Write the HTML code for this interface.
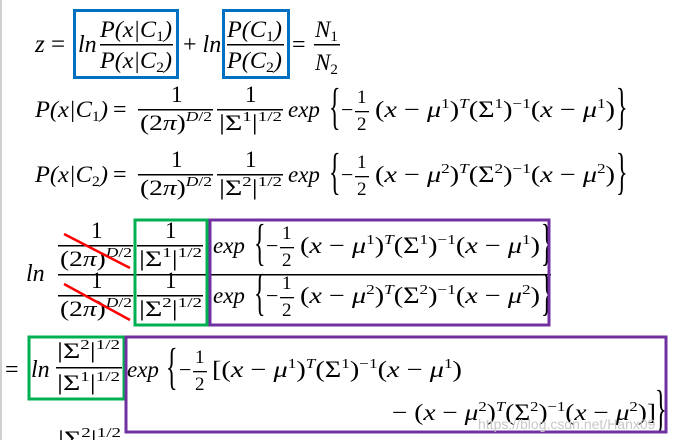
<!DOCTYPE html>
<html><head><meta charset="utf-8"><style>
html,body{margin:0;padding:0;background:#fff;width:681px;height:440px;overflow:hidden}
svg{display:block}
text{font-family:"Liberation Serif",serif;font-style:italic;fill:#000}
.r{font-style:normal}
.br{font-family:"Liberation Serif",serif;font-style:normal}
</style></head><body>
<svg width="681" height="440" viewBox="0 0 681 440" xmlns="http://www.w3.org/2000/svg">
<rect x="0" y="0" width="2" height="440" fill="#d0d0d0"/>
<!-- Row 1 -->
<text x="35" y="52" font-size="25">z <tspan class="r">=</tspan></text>
<text x="78" y="52" font-size="24">ln</text>
<text x="100" y="37" font-size="23" textLength="72" lengthAdjust="spacingAndGlyphs">P(x|C<tspan font-size="15" dy="4" class="r">1</tspan><tspan dy="-4">)</tspan></text>
<rect x="100" y="44" width="73" height="1.5" fill="#000"/>
<text x="100" y="68" font-size="23" textLength="72" lengthAdjust="spacingAndGlyphs">P(x|C<tspan font-size="15" dy="4" class="r">2</tspan><tspan dy="-4">)</tspan></text>
<text x="183" y="52" font-size="24"><tspan class="r">+</tspan> ln</text>
<text x="227" y="37" font-size="23" textLength="55" lengthAdjust="spacingAndGlyphs">P(C<tspan font-size="15" dy="4" class="r">1</tspan><tspan dy="-4">)</tspan></text>
<rect x="227" y="44" width="57" height="1.5" fill="#000"/>
<text x="227" y="68" font-size="23" textLength="55" lengthAdjust="spacingAndGlyphs">P(C<tspan font-size="15" dy="4" class="r">2</tspan><tspan dy="-4">)</tspan></text>
<text x="292" y="52" font-size="24" class="r">=</text>
<text x="315" y="37" font-size="23">N<tspan font-size="15" dy="4" class="r">1</tspan></text>
<rect x="314" y="44" width="26" height="1.5" fill="#000"/>
<text x="315" y="70" font-size="23">N<tspan font-size="15" dy="4" class="r">2</tspan></text>
<rect x="74.5" y="10.5" width="103" height="67" fill="none" stroke="#0070c0" stroke-width="3"/>
<rect x="223.5" y="10.5" width="65" height="67" fill="none" stroke="#0070c0" stroke-width="3"/>

<!-- Row 2 & 3 -->
<text x="35" y="117" font-size="23" textLength="73" lengthAdjust="spacingAndGlyphs">P(x|C<tspan font-size="15" dy="4" class="r">1</tspan><tspan dy="-4">)</tspan></text>
<text x="35" y="182" font-size="23" textLength="73" lengthAdjust="spacingAndGlyphs">P(x|C<tspan font-size="15" dy="4" class="r">2</tspan><tspan dy="-4">)</tspan></text>
<text x="113" y="117" font-size="24" class="r">=</text>
<text x="113" y="182" font-size="24" class="r">=</text>
<g>
<text x="171" y="102" font-size="23" class="r">1</text>
<rect x="138" y="109" width="75" height="1.5" fill="#000"/>
<text x="140" y="130" font-size="22" class="r" textLength="72" lengthAdjust="spacingAndGlyphs">(2<tspan font-style="italic">π</tspan>)<tspan font-size="14" dy="-9" font-style="italic">D</tspan><tspan font-size="14">/2</tspan></text>
<text x="245" y="102" font-size="23" class="r">1</text>
<rect x="217" y="109" width="66" height="1.5" fill="#000"/>
<text x="219" y="130" font-size="22" class="r" textLength="63" lengthAdjust="spacingAndGlyphs">|Σ<tspan font-size="14" dy="-9">1</tspan><tspan dy="9">|</tspan><tspan font-size="14" dy="-9">1/2</tspan></text>
</g>
<g transform="translate(0,65)">
<text x="171" y="102" font-size="23" class="r">1</text>
<rect x="138" y="109" width="75" height="1.5" fill="#000"/>
<text x="140" y="130" font-size="22" class="r" textLength="72" lengthAdjust="spacingAndGlyphs">(2<tspan font-style="italic">π</tspan>)<tspan font-size="14" dy="-9" font-style="italic">D</tspan><tspan font-size="14">/2</tspan></text>
<text x="245" y="102" font-size="23" class="r">1</text>
<rect x="217" y="109" width="66" height="1.5" fill="#000"/>
<text x="219" y="130" font-size="22" class="r" textLength="63" lengthAdjust="spacingAndGlyphs">|Σ<tspan font-size="14" dy="-9">2</tspan><tspan dy="9">|</tspan><tspan font-size="14" dy="-9">1/2</tspan></text>
</g>
<g>
<text x="288" y="117" font-size="23">exp</text>
<text class="br" font-size="24" transform="translate(329,123) scale(1,2.1)">{</text>
<text x="341" y="117" font-size="22" class="r">−</text>
<text x="357" y="103" font-size="19" class="r">1</text>
<rect x="355" y="111" width="14" height="1.3" fill="#000"/>
<text x="357" y="130" font-size="19" class="r">2</text>
<text x="375" y="117" font-size="23" textLength="240" lengthAdjust="spacingAndGlyphs"><tspan class="r">(</tspan>x <tspan class="r">−</tspan> μ<tspan font-size="14" dy="-9" class="r">1</tspan><tspan dy="9" class="r">)</tspan><tspan font-size="14" dy="-9">T</tspan><tspan dy="9" class="r">(Σ</tspan><tspan font-size="14" dy="-9" class="r">1</tspan><tspan dy="9" class="r">)</tspan><tspan font-size="14" dy="-9" class="r">−1</tspan><tspan dy="9" class="r">(</tspan>x <tspan class="r">−</tspan> μ<tspan font-size="14" dy="-9" class="r">1</tspan><tspan dy="9" class="r">)</tspan></text>
<text class="br" font-size="24" transform="translate(616,123) scale(1,2.1)">}</text>
</g>
<g transform="translate(0,65)">
<text x="288" y="117" font-size="23">exp</text>
<text class="br" font-size="24" transform="translate(329,123) scale(1,2.1)">{</text>
<text x="341" y="117" font-size="22" class="r">−</text>
<text x="357" y="103" font-size="19" class="r">1</text>
<rect x="355" y="111" width="14" height="1.3" fill="#000"/>
<text x="357" y="130" font-size="19" class="r">2</text>
<text x="375" y="117" font-size="23" textLength="240" lengthAdjust="spacingAndGlyphs"><tspan class="r">(</tspan>x <tspan class="r">−</tspan> μ<tspan font-size="14" dy="-9" class="r">2</tspan><tspan dy="9" class="r">)</tspan><tspan font-size="14" dy="-9">T</tspan><tspan dy="9" class="r">(Σ</tspan><tspan font-size="14" dy="-9" class="r">2</tspan><tspan dy="9" class="r">)</tspan><tspan font-size="14" dy="-9" class="r">−1</tspan><tspan dy="9" class="r">(</tspan>x <tspan class="r">−</tspan> μ<tspan font-size="14" dy="-9" class="r">2</tspan><tspan dy="9" class="r">)</tspan></text>
<text class="br" font-size="24" transform="translate(616,123) scale(1,2.1)">}</text>
</g>

<!-- Row 4 -->
<text x="26" y="281" font-size="24">ln</text>
<rect x="58" y="274" width="493" height="1.5" fill="#000"/>
<g transform="translate(-80,136)">
<text x="171" y="102" font-size="23" class="r">1</text>
<rect x="138" y="109" width="75" height="1.5" fill="#000"/>
<text x="140" y="130" font-size="22" class="r" textLength="72" lengthAdjust="spacingAndGlyphs">(2<tspan font-style="italic">π</tspan>)<tspan font-size="14" dy="-9" font-style="italic">D</tspan><tspan font-size="14">/2</tspan></text>
<text x="245" y="102" font-size="23" class="r">1</text>
<rect x="217" y="109" width="66" height="1.5" fill="#000"/>
<text x="219" y="130" font-size="22" class="r" textLength="63" lengthAdjust="spacingAndGlyphs">|Σ<tspan font-size="14" dy="-9">1</tspan><tspan dy="9">|</tspan><tspan font-size="14" dy="-9">1/2</tspan></text>
</g>
<g transform="translate(-80,186)">
<text x="171" y="102" font-size="23" class="r">1</text>
<rect x="138" y="109" width="75" height="1.5" fill="#000"/>
<text x="140" y="130" font-size="22" class="r" textLength="72" lengthAdjust="spacingAndGlyphs">(2<tspan font-style="italic">π</tspan>)<tspan font-size="14" dy="-9" font-style="italic">D</tspan><tspan font-size="14">/2</tspan></text>
<text x="245" y="102" font-size="23" class="r">1</text>
<rect x="217" y="109" width="66" height="1.5" fill="#000"/>
<text x="219" y="130" font-size="22" class="r" textLength="63" lengthAdjust="spacingAndGlyphs">|Σ<tspan font-size="14" dy="-9">2</tspan><tspan dy="9">|</tspan><tspan font-size="14" dy="-9">1/2</tspan></text>
</g>
<line x1="64" y1="234" x2="130" y2="268" stroke="#ff0000" stroke-width="2.5"/>
<line x1="64" y1="284" x2="130" y2="320" stroke="#ff0000" stroke-width="2.5"/>
<g transform="translate(-75,136)">
<text x="288" y="117" font-size="23">exp</text>
<text class="br" font-size="24" transform="translate(329,123) scale(1,2.1)">{</text>
<text x="341" y="117" font-size="22" class="r">−</text>
<text x="357" y="103" font-size="19" class="r">1</text>
<rect x="355" y="111" width="14" height="1.3" fill="#000"/>
<text x="357" y="130" font-size="19" class="r">2</text>
<text x="375" y="117" font-size="23" textLength="240" lengthAdjust="spacingAndGlyphs"><tspan class="r">(</tspan>x <tspan class="r">−</tspan> μ<tspan font-size="14" dy="-9" class="r">1</tspan><tspan dy="9" class="r">)</tspan><tspan font-size="14" dy="-9">T</tspan><tspan dy="9" class="r">(Σ</tspan><tspan font-size="14" dy="-9" class="r">1</tspan><tspan dy="9" class="r">)</tspan><tspan font-size="14" dy="-9" class="r">−1</tspan><tspan dy="9" class="r">(</tspan>x <tspan class="r">−</tspan> μ<tspan font-size="14" dy="-9" class="r">1</tspan><tspan dy="9" class="r">)</tspan></text>
<text class="br" font-size="24" transform="translate(616,123) scale(1,2.1)">}</text>
</g>
<g transform="translate(-75,186)">
<text x="288" y="117" font-size="23">exp</text>
<text class="br" font-size="24" transform="translate(329,123) scale(1,2.1)">{</text>
<text x="341" y="117" font-size="22" class="r">−</text>
<text x="357" y="103" font-size="19" class="r">1</text>
<rect x="355" y="111" width="14" height="1.3" fill="#000"/>
<text x="357" y="130" font-size="19" class="r">2</text>
<text x="375" y="117" font-size="23" textLength="240" lengthAdjust="spacingAndGlyphs"><tspan class="r">(</tspan>x <tspan class="r">−</tspan> μ<tspan font-size="14" dy="-9" class="r">2</tspan><tspan dy="9" class="r">)</tspan><tspan font-size="14" dy="-9">T</tspan><tspan dy="9" class="r">(Σ</tspan><tspan font-size="14" dy="-9" class="r">2</tspan><tspan dy="9" class="r">)</tspan><tspan font-size="14" dy="-9" class="r">−1</tspan><tspan dy="9" class="r">(</tspan>x <tspan class="r">−</tspan> μ<tspan font-size="14" dy="-9" class="r">2</tspan><tspan dy="9" class="r">)</tspan></text>
<text class="br" font-size="24" transform="translate(616,123) scale(1,2.1)">}</text>
</g>
<rect x="135" y="220" width="72" height="105" fill="none" stroke="#00b050" stroke-width="3"/>
<rect x="210" y="220" width="339" height="105" fill="none" stroke="#7030a0" stroke-width="3"/>

<!-- Row 5 -->
<text x="5" y="377" font-size="24" class="r">=</text>
<text x="31" y="377" font-size="24">ln</text>
<text x="57" y="358" font-size="22" class="r" textLength="63" lengthAdjust="spacingAndGlyphs">|Σ<tspan font-size="14" dy="-9">2</tspan><tspan dy="9">|</tspan><tspan font-size="14" dy="-9">1/2</tspan></text>
<rect x="56" y="367" width="66" height="1.5" fill="#000"/>
<text x="57" y="390" font-size="22" class="r" textLength="63" lengthAdjust="spacingAndGlyphs">|Σ<tspan font-size="14" dy="-9">1</tspan><tspan dy="9">|</tspan><tspan font-size="14" dy="-9">1/2</tspan></text>
<text x="127" y="377" font-size="23">exp</text>
<text class="br" font-size="24" transform="translate(166,383) scale(1,2.1)">{</text>
<text x="179" y="377" font-size="22" class="r">−</text>
<text x="195" y="363" font-size="19" class="r">1</text>
<rect x="193" y="371" width="14" height="1.3" fill="#000"/>
<text x="195" y="390" font-size="19" class="r">2</text>
<text x="212" y="377" font-size="23" textLength="250" lengthAdjust="spacingAndGlyphs"><tspan class="r">[(</tspan>x <tspan class="r">−</tspan> μ<tspan font-size="14" dy="-9" class="r">1</tspan><tspan dy="9" class="r">)</tspan><tspan font-size="14" dy="-9">T</tspan><tspan dy="9" class="r">(Σ</tspan><tspan font-size="14" dy="-9" class="r">1</tspan><tspan dy="9" class="r">)</tspan><tspan font-size="14" dy="-9" class="r">−1</tspan><tspan dy="9" class="r">(</tspan>x <tspan class="r">−</tspan> μ<tspan font-size="14" dy="-9" class="r">1</tspan><tspan dy="9" class="r">)</tspan></text>
<text x="392" y="420" font-size="23" textLength="264" lengthAdjust="spacingAndGlyphs"><tspan class="r">− (</tspan>x <tspan class="r">−</tspan> μ<tspan font-size="14" dy="-9" class="r">2</tspan><tspan dy="9" class="r">)</tspan><tspan font-size="14" dy="-9">T</tspan><tspan dy="9" class="r">(Σ</tspan><tspan font-size="14" dy="-9" class="r">2</tspan><tspan dy="9" class="r">)</tspan><tspan font-size="14" dy="-9" class="r">−1</tspan><tspan dy="9" class="r">(</tspan>x <tspan class="r">−</tspan> μ<tspan font-size="14" dy="-9" class="r">2</tspan><tspan dy="9" class="r">)]</tspan></text>
<text class="br" font-size="24" transform="translate(655,425) scale(1,2.1)">}</text>
<rect x="29" y="337" width="95" height="62" fill="none" stroke="#00b050" stroke-width="3"/>
<rect x="126" y="337" width="540" height="95" fill="none" stroke="#7030a0" stroke-width="3"/>
<text x="478" y="429" font-size="14" class="r" style="fill:#c8c8c8;font-family:'Liberation Sans',sans-serif">https://blog.csdn.net/Hanx09</text>
<text x="58" y="446" font-size="22" class="r" textLength="63" lengthAdjust="spacingAndGlyphs">|Σ<tspan font-size="14" dy="-9">2</tspan><tspan dy="9">|</tspan><tspan font-size="14" dy="-9">1/2</tspan></text>
</svg>
</body></html>
